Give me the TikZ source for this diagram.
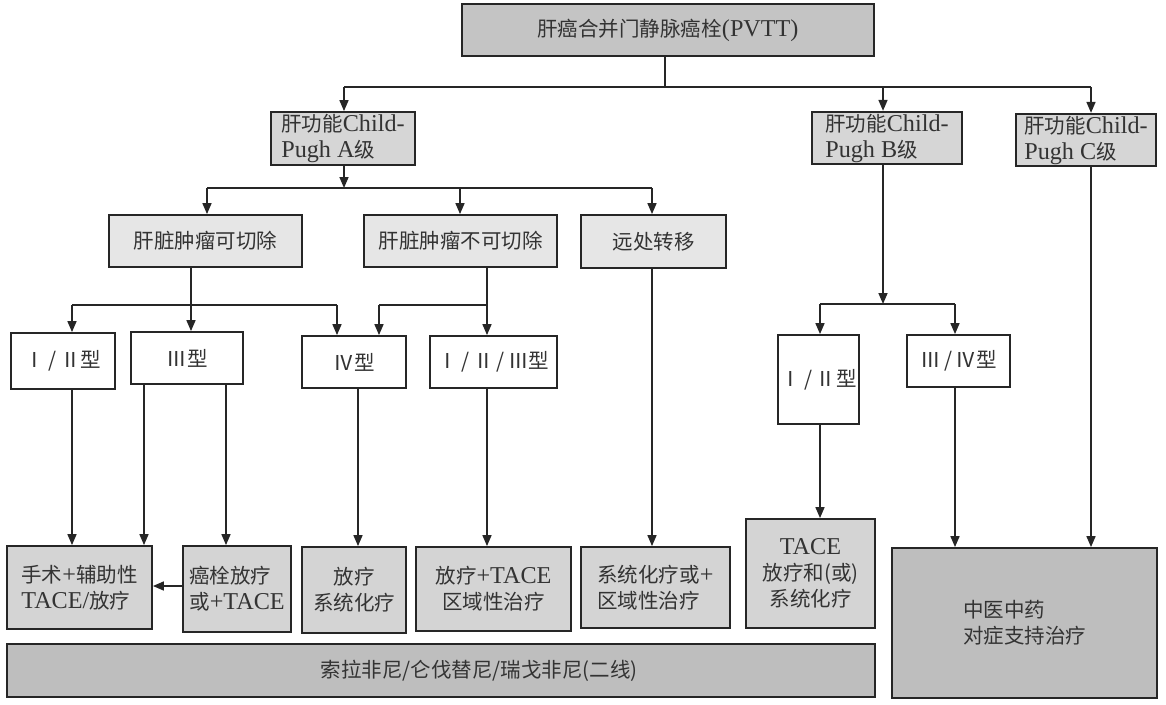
\documentclass[tikz,border=0pt]{standalone}
\usepackage{fontspec}
\setmainfont{Noto Sans CJK SC}
\newfontfamily\lat[Scale=1.18]{Liberation Serif}
\usetikzlibrary{arrows.meta}
\definecolor{gtop}{HTML}{C4C4C4}
\definecolor{gchild}{HTML}{D6D6D6}
\definecolor{grow}{HTML}{E6E6E6}
\definecolor{gtreat}{HTML}{D4D4D4}
\definecolor{gdark}{HTML}{BEBEBE}
\definecolor{ink}{HTML}{333333}
\begin{document}
\begin{tikzpicture}[x=1pt,y=-1pt,
  box/.style={draw=black!85, line width=1.8pt, inner sep=2pt,
    font=\fontsize{20.5}{26}\selectfont, text=ink, align=center},
  conn/.style={line width=1.6pt, draw=black!85},
  arr/.style={conn, -{Triangle[length=11pt,width=9pt]}}]
\useasboundingbox (0,0) rectangle (1166,704);

% level 0
\node[box, fill=gtop, minimum width=412pt, minimum height=52pt] (top) at (668,30) {肝癌合并门静脉癌栓{\lat (PVTT)}};

% level 1
\node[box, fill=gchild, align=left, minimum width=144pt, minimum height=53pt] (A) at (343,138.5) {肝功能{\lat Child-}\\{\lat Pugh A}级};
\node[box, fill=gchild, align=left, minimum width=150pt, minimum height=52pt] (B) at (887,138) {肝功能{\lat Child-}\\{\lat Pugh B}级};
\node[box, fill=gchild, align=left, minimum width=140pt, minimum height=52pt] (C) at (1086,140) {肝功能{\lat Child-}\\{\lat Pugh C}级};

% level 2
\node[box, fill=grow, minimum width=193pt, minimum height=52pt] (res) at (205.5,241) {肝脏肿瘤可切除};
\node[box, fill=grow, minimum width=193pt, minimum height=52pt] (unres) at (460.5,241) {肝脏肿瘤不可切除};
\node[box, fill=grow, minimum width=145pt, minimum height=53pt] (meta) at (653.5,241.5) {远处转移};

% level 3 (types)
\node[box, fill=white, minimum width=104pt, minimum height=56pt] (t12) at (63,361) {Ⅰ\,/\,Ⅱ型};
\node[box, fill=white, minimum width=112pt, minimum height=52pt] (t3) at (187,358) {Ⅲ型};
\node[box, fill=white, minimum width=104pt, minimum height=52pt] (t4) at (354,362) {Ⅳ型};
\node[box, fill=white, minimum width=127pt, minimum height=52pt] (t123) at (493.5,362) {Ⅰ\,/\,Ⅱ\,/\,Ⅲ型};
\node[box, fill=white, minimum width=81pt, minimum height=89pt] (bt12) at (818.5,379.5) {Ⅰ\,/\,Ⅱ型};
\node[box, fill=white, minimum width=103pt, minimum height=52pt] (bt34) at (958.5,361) {Ⅲ\,/\,Ⅳ型};

% level 4 (treatments)
\node[box, fill=gtreat, align=left, minimum width=145pt, minimum height=83pt] (surg) at (79.5,587.5) {手术{\lat +}辅助性\\{\lat TACE/}放疗};
\node[box, fill=gtreat, align=left, minimum width=108pt, minimum height=86pt] (emb) at (237,589) {癌栓放疗\\或{\lat +TACE}};
\node[box, fill=gtreat, minimum width=104pt, minimum height=86pt] (rt) at (354,590) {放疗\\系统化疗};
\node[box, fill=gtreat, minimum width=155pt, minimum height=84pt] (rtt) at (493.5,589) {放疗{\lat +TACE}\\区域性治疗};
\node[box, fill=gtreat, align=left, minimum width=149pt, minimum height=81pt] (sys) at (655.5,587.5) {系统化疗或{\lat +}\\区域性治疗};
\node[box, fill=gtreat, minimum width=129pt, minimum height=109pt] (tace) at (810.5,573.5) {{\lat TACE}\\放疗和(或)\\系统化疗};
\node[box, fill=gdark, align=left, minimum width=265pt, minimum height=150pt] (tcm) at (1024.5,623) {中医中药\\对症支持治疗};
\node[box, fill=gdark, minimum width=868pt, minimum height=53pt] (sora) at (441,670.5) {\hspace*{76pt}索拉非尼/仑伐替尼/瑞戈非尼(二线)};

% junction coordinates
\coordinate (j0) at (665,87);
\coordinate (jA) at (344,87);
\coordinate (jB) at (883,87);
\coordinate (jC) at (1091,87);
\coordinate (k0) at (344,188);
\coordinate (k1) at (207,188);
\coordinate (k2) at (460,188);
\coordinate (k3) at (652,188);
\coordinate (r0) at (191,305);
\coordinate (r1) at (72,305);
\coordinate (r3) at (337,305);
\coordinate (u0) at (487,305);
\coordinate (u1) at (379,305);
\coordinate (b0) at (883,304);
\coordinate (b1) at (820,304);
\coordinate (b2) at (955,304);
\coordinate (x1) at (144,0);
\coordinate (x2) at (226,0);
\coordinate (x3) at (358,0);

% top tree
\draw[conn] (top.south -| j0) -- (j0);
\draw[conn] (jA) -- (jC);
\draw[arr] (jA) -- (jA |- A.north);
\draw[arr] (jB) -- (jB |- B.north);
\draw[arr] (jC) -- (jC |- C.north);

% Child A
\draw[arr] (A.south -| k0) -- (k0);
\draw[conn] (k1) -- (k3);
\draw[arr] (k1) -- (k1 |- res.north);
\draw[arr] (k2) -- (k2 |- unres.north);
\draw[arr] (k3) -- (k3 |- meta.north);

% resectable
\draw[conn] (res.south -| r0) -- (r0);
\draw[conn] (r1) -- (r3);
\draw[arr] (r1) -- (r1 |- t12.north);
\draw[arr] (r0) -- (r0 |- t3.north);
\draw[arr] (r3) -- (r3 |- t4.north);

% unresectable
\draw[conn] (unres.south -| u0) -- (u0);
\draw[conn] (u1) -- (u0);
\draw[arr] (u1) -- (u1 |- t4.north);
\draw[arr] (u0) -- (u0 |- t123.north);

% Child B
\draw[arr] (B.south -| b0) -- (b0);
\draw[conn] (b1) -- (b2);
\draw[arr] (b1) -- (b1 |- bt12.north);
\draw[arr] (b2) -- (b2 |- bt34.north);

% to treatments
\draw[arr] (t12.south -| r1) -- (r1 |- surg.north);
\draw[arr] (t3.south -| x1) -- (x1 |- surg.north);
\draw[arr] (t3.south -| x2) -- (x2 |- emb.north);
\draw[arr] (emb.west |- 0,586) -- (surg.east |- 0,586);
\draw[arr] (t4.south -| x3) -- (x3 |- rt.north);
\draw[arr] (t123.south -| u0) -- (u0 |- rtt.north);
\draw[arr] (meta.south -| k3) -- (k3 |- sys.north);
\draw[arr] (bt12.south -| b1) -- (b1 |- tace.north);
\draw[arr] (bt34.south -| b2) -- (b2 |- tcm.north);
\draw[arr] (C.south -| jC) -- (jC |- tcm.north);
\end{tikzpicture}
\end{document}
